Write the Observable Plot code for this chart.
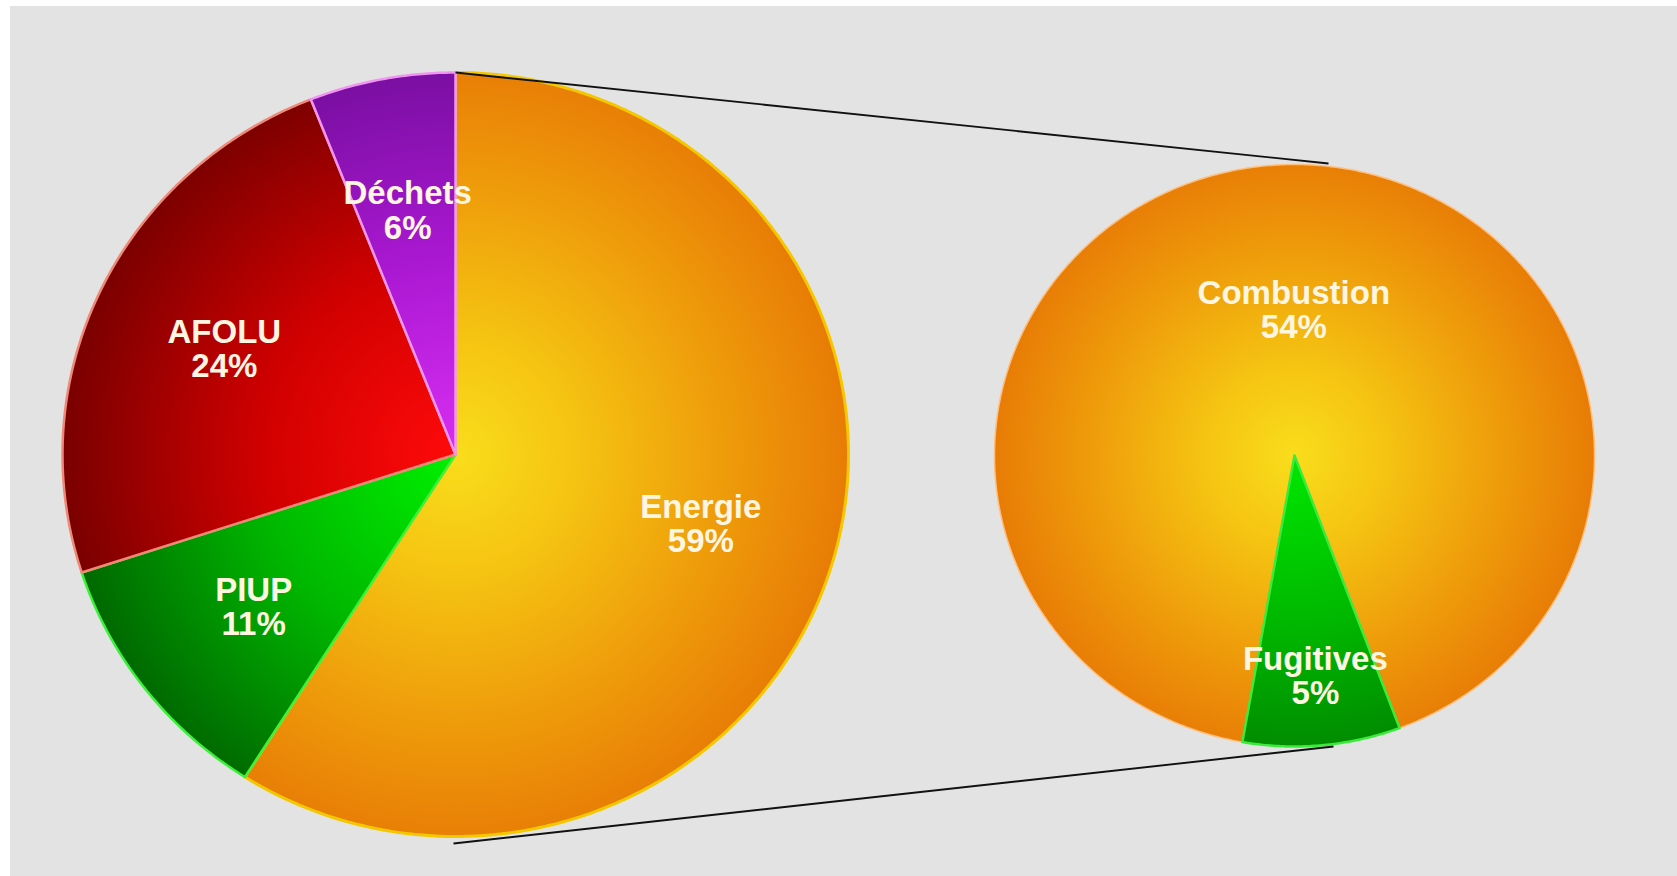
<!DOCTYPE html>
<html>
<head>
<meta charset="utf-8">
<script src="https://cdn.jsdelivr.net/npm/d3@7"></script>
<script src="https://cdn.jsdelivr.net/npm/@observablehq/plot@0.6"></script>
<style>
  html, body { margin: 0; padding: 0; background: #ffffff; }
  #wrap { padding: 6px 0 0 10px; }
</style>
</head>
<body>
<div id="wrap"></div>
<script>
// ---- data ----
const mainCategories = ["Energie", "PIUP", "AFOLU", "Déchets"];
const mainValues = [59, 11, 24, 6];
const detailCategories = ["Combustion", "Fugitives"];
const detailValues = [54, 5];

// ---- layout (image coordinates) ----
const leftPie = {cx: 455, cy: 454, rx: 393, ry: 382, start: 0};
const rightPie = {cx: 1294, cy: 455, rx: 300, ry: 291, start: 190};

const styles = {
  "Energie":    {stops: [[0, "#f9dd1c"], [0.3, "#f5c412"], [0.7, "#ee9a0a"], [1, "#e87c06"]], stroke: "#f4c800", sw: 3, lr: 0.65, la: 0},
  "PIUP":       {stops: [[0, "#00f000"], [0.5, "#00b800"], [1, "#006800"]], stroke: "#3cf03c", sw: 2.5, lr: 0.65, la: 0},
  "AFOLU":      {stops: [[0, "#ff0a0a"], [0.5, "#d00000"], [1, "#7a0000"]], stroke: "#f08878", sw: 2.5, lr: 0.65, la: 0},
  "Déchets":    {stops: [[0, "#d82ef2"], [0.5, "#aa18d2"], [1, "#780ea0"]], stroke: "#f294f2", sw: 2.5, lr: 0.65, la: 0},
  "Combustion": {stops: [[0, "#f9dd1c"], [0.3, "#f5c412"], [0.7, "#ee9a0a"], [1, "#e87c06"]], stroke: "#ffbe7a", sw: 1.5, lr: 0.5, la: 5},
  "Fugitives":  {stops: [[0, "#00e800"], [0.6, "#00b400"], [1, "#008a00"]], stroke: "#3cea3c", sw: 2.5, lr: 0.76, la: 0}
};

function slices(cats, vals, pie, prefix) {
  const total = d3.sum(vals);
  let a = pie.start;
  return cats.map((c, i) => {
    const a0 = a, a1 = a + vals[i] / total * 360;
    a = a1;
    return {key: c, value: vals[i], a0, a1, mid: (a0 + a1) / 2, pie, id: prefix + i};
  });
}

function polygon(s) {
  const p = s.pie;
  const pts = [{x: p.cx, y: p.cy}];
  const n = Math.max(4, Math.ceil((s.a1 - s.a0) / 0.5));
  for (let i = 0; i <= n; i++) {
    const t = (s.a0 + (s.a1 - s.a0) * i / n) * Math.PI / 180;
    pts.push({x: p.cx + p.rx * Math.sin(t), y: p.cy - p.ry * Math.cos(t)});
  }
  return pts;
}

const leftSlices = slices(mainCategories, mainValues, leftPie, "L");
const rightSlices = slices(detailCategories, detailValues, rightPie, "R");
const allSlices = [...leftSlices, ...rightSlices];

const labels = allSlices.map(s => {
  const st = styles[s.key];
  const t = (s.mid + st.la) * Math.PI / 180, lr = st.lr, p = s.pie;
  return {x: p.cx + lr * p.rx * Math.sin(t), y: p.cy - lr * p.ry * Math.cos(t), text: `${s.key}\n${s.value}%`};
});

const connectors = [
  {x1: leftPie.cx, y1: leftPie.cy - leftPie.ry, x2: rightPie.cx + 34, y2: rightPie.cy - rightPie.ry - 1},
  {x1: leftPie.cx - 2, y1: leftPie.cy + leftPie.ry + 7, x2: rightPie.cx + 39, y2: rightPie.cy + rightPie.ry}
];

const defsMark = (index, scales) => {
  const sx = scales && scales.x ? scales.x : (v => v - 10);
  const sy = scales && scales.y ? scales.y : (v => v - 6);
  const g = d3.create("svg:g");
  const defs = g.append("defs");
  for (const s of allSlices) {
    const st = styles[s.key];
    const rg = defs.append("radialGradient")
      .attr("id", "grad-" + s.id)
      .attr("gradientUnits", "userSpaceOnUse")
      .attr("cx", sx(s.pie.cx)).attr("cy", sy(s.pie.cy))
      .attr("fx", sx(s.pie.cx)).attr("fy", sy(s.pie.cy))
      .attr("r", s.pie.rx);
    for (const [o, c] of st.stops) rg.append("stop").attr("offset", o).attr("stop-color", c);
  }
  return g.node();
};

const sliceMarks = allSlices.map(s => Plot.line(polygon(s), {
  x: "x", y: "y", curve: "linear-closed",
  fill: `url(#grad-${s.id})`,
  stroke: styles[s.key].stroke, strokeWidth: styles[s.key].sw, strokeLinejoin: "round"
}));

const chart = Plot.plot({
  width: 1667, height: 870,
  marginTop: 0, marginRight: 0, marginBottom: 0, marginLeft: 0,
  style: {background: "#e3e3e3", maxWidth: "none"},
  x: {type: "linear", domain: [10, 1677], range: [0, 1667], axis: null},
  y: {type: "linear", domain: [6, 876], range: [0, 870], axis: null},
  marks: [
    defsMark,
    ...sliceMarks,
    Plot.link(connectors, {x1: "x1", y1: "y1", x2: "x2", y2: "y2", stroke: "#111", strokeWidth: 1.9}),
    Plot.text(labels, {
      x: "x", y: "y", text: "text",
      fontSize: 33, fontWeight: "bold", fontFamily: "'Liberation Sans', Arial, sans-serif",
      fill: "#fff6e2", lineHeight: 1.04
    })
  ]
});
document.getElementById("wrap").appendChild(chart);
</script>
</body>
</html>
